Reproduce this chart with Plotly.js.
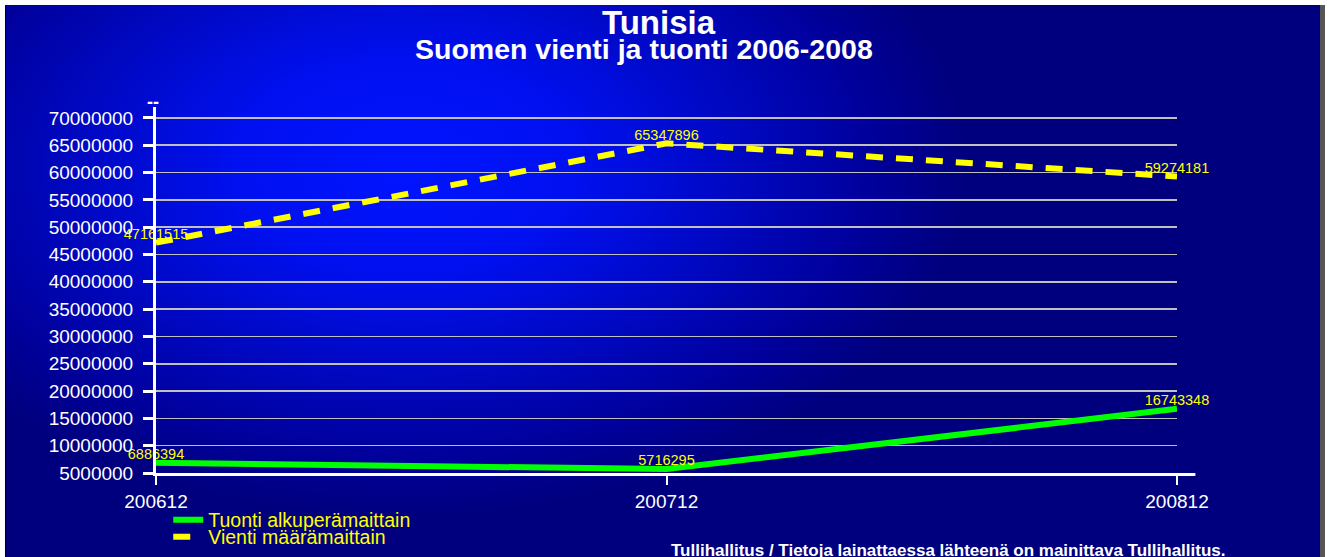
<!DOCTYPE html>
<html>
<head>
<meta charset="utf-8">
<script src="https://cdn.plot.ly/plotly-3.0.1.min.js"></script>
<style>
  html, body { margin: 0; padding: 0; background: #fff; }
  #frame {
    position: absolute; left: 5px; top: 5px; width: 1320px; height: 552px;
    border-left: 1px solid #000; border-right: 5px solid #555;
    box-sizing: border-box;
    background: radial-gradient(ellipse 560px 350px at 400px 160px, #0014ff 0%, #0010f0 30%, #0008c0 60%, #000098 85%, #00007f 100%), #00007f;
  }
  #chart { position: absolute; left: 0; top: 0; width: 1330px; height: 557px; }
</style>
</head>
<body>
<div id="frame"></div>
<div id="chart"></div>
<script>
var periods = ["200612", "200712", "200812"];
var tuonti = [6886394, 5716295, 16743348];
var vienti = [47161515, 65347896, 59274181];
var yTicks = [5000000, 10000000, 15000000, 20000000, 25000000, 30000000, 35000000,
  40000000, 45000000, 50000000, 55000000, 60000000, 65000000, 70000000];

var font = "Liberation Sans, Arial, sans-serif";
var plotH = 366; // height of plot area in px, used for paper offsets

var data = [
  {
    x: periods,
    y: tuonti,
    name: "Tuonti alkuperämaittain",
    type: "scatter",
    mode: "lines+text",
    text: tuonti.map(String),
    textposition: "top center",
    textfont: { color: "#ffff00", size: 14.5, family: font },
    line: { color: "#00ff00", width: 6 },
    cliponaxis: false,
    legend: "legend"
  },
  {
    x: periods,
    y: vienti,
    name: "Vienti määrämaittain",
    type: "scatter",
    mode: "lines+text",
    text: vienti.map(String),
    textposition: "top center",
    textfont: { color: "#ffff00", size: 14.5, family: font },
    line: { color: "#ffff00", width: 6, dash: "17px,13px" },
    cliponaxis: false,
    legend: "legend2"
  }
];

function legendAt(yc) {
  return {
    x: 0.012, xanchor: "left",
    y: -(yc - 473) / plotH, yanchor: "middle",
    font: { color: "#ffff00", size: 19.5, family: font },
    bgcolor: "rgba(0,0,0,0)"
  };
}

var layout = {
  width: 1330,
  height: 557,
  paper_bgcolor: "rgba(0,0,0,0)",
  plot_bgcolor: "rgba(0,0,0,0)",
  margin: { l: 156, r: 153, t: 107, b: 84, autoexpand: false },
  font: { family: font, color: "#ffffff" },
  showlegend: true,
  legend: legendAt(520),
  legend2: legendAt(537),
  xaxis: {
    type: "category",
    range: [0, 2],
    showgrid: false,
    zeroline: false,
    showline: true,
    linecolor: "#ffffff",
    linewidth: 3,
    ticks: "outside",
    ticklen: 9,
    tickwidth: 2,
    tickcolor: "#ffffff",
    tickfont: { size: 19, color: "#ffffff", family: font }
  },
  yaxis: {
    range: [5000000, 72000000],
    tickvals: yTicks,
    ticktext: yTicks.map(String),
    showgrid: true,
    gridcolor: "#c0c0c0",
    gridwidth: 1.5,
    zeroline: false,
    showline: true,
    linecolor: "#ffffff",
    linewidth: 3,
    ticks: "outside",
    ticklen: 10,
    tickwidth: 3,
    tickcolor: "#ffffff",
    ticklabelstandoff: 6,
    tickfont: { size: 19, color: "#ffffff", family: font }
  },
  shapes: [
    { type: "line", xref: "paper", yref: "paper", x0: 1, x1: 1.018, y0: -1.5 / plotH, y1: -1.5 / plotH,
      line: { color: "#ffffff", width: 3 } }
  ],
  annotations: [
    { text: "<b>Tunisia</b>", xref: "paper", yref: "paper", x: (659 - 156) / 1021, y: 1 + 85 / plotH,
      xanchor: "center", yanchor: "middle", showarrow: false,
      font: { size: 33, color: "#ffffff", family: font } },
    { text: "<b>Suomen vienti ja tuonti 2006-2008</b>", xref: "paper", yref: "paper",
      x: (644 - 156) / 1021, y: 1 + 58 / plotH,
      xanchor: "center", yanchor: "middle", showarrow: false,
      font: { size: 28.5, color: "#ffffff", family: font } },
    { text: "<b>--</b>", xref: "paper", yref: "paper", x: -3 / 1021, y: 1 + 5 / plotH,
      xanchor: "center", yanchor: "middle", showarrow: false,
      font: { size: 18, color: "#ffffff", family: font } },
    { text: "<b>Tullihallitus / Tietoja lainattaessa lähteenä on mainittava Tullihallitus.</b>",
      xref: "paper", yref: "paper", x: (1228 - 156) / 1021, y: -(550 - 473) / plotH,
      xanchor: "right", yanchor: "middle", showarrow: false,
      font: { size: 17, color: "#ffffff", family: font } }
  ]
};

Plotly.newPlot("chart", data, layout, { displayModeBar: false, staticPlot: true });
</script>
</body>
</html>
